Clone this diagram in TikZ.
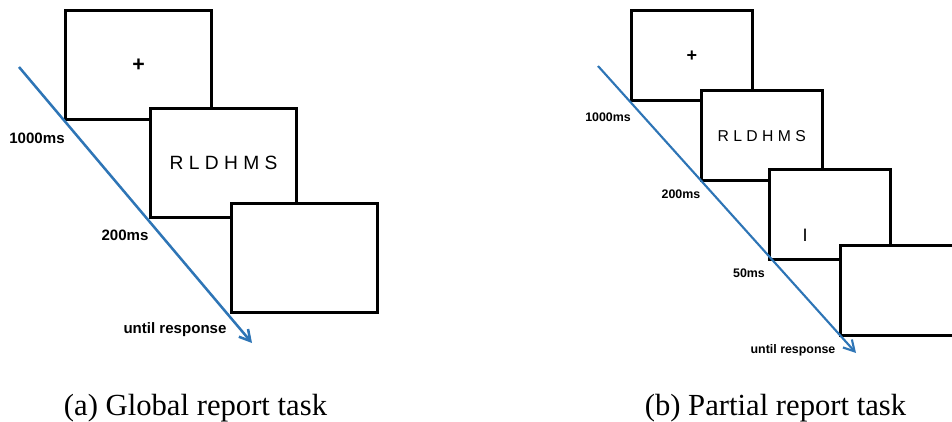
\documentclass[tikz,border=0pt]{standalone}
\usepackage{fontspec}
\setmainfont{Liberation Serif}
\setsansfont{Liberation Sans}
\usetikzlibrary{arrows.meta}
\definecolor{timeblue}{RGB}{46,117,182}

\begin{document}
\begin{tikzpicture}[x=0.75pt, y=-0.75pt,
    bigscreen/.style={draw, fill=white, line width=2.3pt, inner sep=0pt,
      minimum width=109.5pt, minimum height=81.75pt, anchor=south west},
    smallscreen/.style={draw, fill=white, line width=1.9pt, inner sep=0pt,
      minimum width=90.75pt, minimum height=67.5pt, anchor=south west},
    timeline/.style={draw=timeblue, line width=#1,
      -{Straight Barb[length=8pt, width=9pt, line width=#1]}},
    bigtime/.style={font=\sffamily\bfseries\fontsize{11.3}{13}\selectfont},
    smalltime/.style={font=\sffamily\bfseries\fontsize{9.3}{11}\selectfont},
    caption/.style={font=\fontsize{23}{27}\selectfont, anchor=base}]
  \useasboundingbox (0,0) rectangle (952,421);
  \clip (0,0) rectangle (952,421);

  % global report task
  \node[bigscreen] (ga) at (64,121)
    {\sffamily\bfseries\fontsize{16}{18}\selectfont +};
  \node[bigscreen] (gb) at (149,219)
    {\sffamily\fontsize{14.4}{16}\selectfont R L D H M S};
  \node[bigscreen] (gc) at (230,314) {};

  \coordinate (gstart) at (19,67);
  \coordinate (gend) at (252,343);
  \draw[timeline=1.9pt] (gstart) -- (gend);

  \node[bigtime] (g1000) at (37,138) {1000ms};
  \node[bigtime] (g200) at (125,235) {200ms};
  \node[bigtime] (guntil) at (175,330) {until response};

  % partial report task
  \node[smallscreen] (pa) at (630,102)
    {\sffamily\bfseries\fontsize{13.5}{15}\selectfont +};
  \node[smallscreen] (pb) at (700,182)
    {\sffamily\fontsize{11.8}{14}\selectfont R L D H M S};
  \node[smallscreen] (pc) at (768,261) {};
  \node[font=\sffamily\fontsize{13.5}{15}\selectfont] (pcue) at (805,235) {I};
  \node[smallscreen] (pd) at (839,337) {};

  \coordinate (pstart) at (598,66);
  \coordinate (pend) at (856,353);
  \draw[timeline=1.6pt] (pstart) -- (pend);

  \node[smalltime] (p1000) at (608,117) {1000ms};
  \node[smalltime] (p200) at (681,194) {200ms};
  \node[smalltime] (p50) at (749,273) {50ms};
  \node[smalltime] (puntil) at (793,350) {until response};

  % captions
  \node[caption] (gcap) at (195.5,415) {(a) Global report task};
  \node[caption] (pcap) at (775.5,415) {(b) Partial report task};
\end{tikzpicture}
\end{document}
